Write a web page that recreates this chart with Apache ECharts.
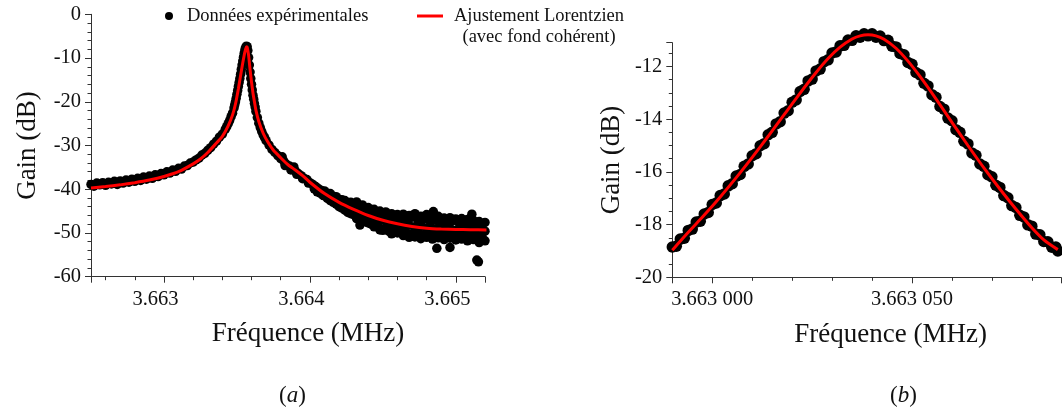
<!DOCTYPE html>
<html><head><meta charset="utf-8">
<script src="https://cdn.jsdelivr.net/npm/echarts@6/dist/echarts.min.js"></script>
<style>html,body{margin:0;padding:0;background:#fff}#c{width:1062px;height:415px}</style>
</head><body><div id="c"></div>
<script>
// ---------- DATA ----------
const expName = 'Données expérimentales';
const fitName = 'Ajustement Lorentzien (avec fond cohérent)';
const panelLabels = ['a', 'b'];

// (a) wide sweep : experimental points [MHz, dB]
const leftExp = [
[3.66250,-38.9],[3.66252,-39.3],[3.66254,-38.6],[3.66256,-39.0],[3.66258,-38.5],[3.66260,-39.1],[3.66262,-38.4],[3.66264,-38.8],[3.66266,-38.2],[3.66268,-38.9],
[3.66270,-38.1],[3.66272,-38.6],[3.66274,-37.9],[3.66276,-38.4],[3.66278,-37.7],[3.66280,-38.2],[3.66282,-37.5],[3.66284,-38.0],[3.66286,-37.2],[3.66288,-37.7],
[3.66290,-37.0],[3.66292,-37.5],[3.66294,-36.7],[3.66296,-37.1],[3.66298,-36.4],[3.66300,-36.7],[3.66302,-36.0],[3.66304,-36.3],[3.66306,-35.6],[3.66308,-35.9],
[3.66310,-35.2],[3.66312,-35.4],[3.66314,-34.7],[3.66316,-34.6],[3.66318,-34.0],[3.66320,-33.8],[3.66322,-33.3],[3.66324,-32.9],[3.66326,-32.2],[3.66328,-31.8],
[3.66330,-31.1],
[3.66332,-30.5],[3.66334,-29.7],[3.66336,-29.0],[3.66338,-28.1],[3.66340,-27.4],[3.66342,-26.3],[3.66343,-25.7],[3.66344,-25.0],[3.66345,-24.3],[3.66346,-23.4],
[3.66347,-22.6],[3.66348,-21.4],[3.663485,-20.7],[3.66349,-20.0],[3.663495,-19.2],[3.66350,-18.3],[3.663505,-17.4],[3.66351,-16.5],[3.663515,-15.6],[3.66352,-14.7],
[3.663525,-13.7],[3.66353,-12.6],[3.663535,-11.6],[3.66354,-10.7],[3.663545,-9.8],[3.66355,-8.9],[3.663555,-8.1],[3.66356,-7.6],[3.663565,-7.3],[3.66357,-7.4],
[3.663575,-8.3],[3.66358,-9.9],[3.663585,-11.6],[3.66359,-13.2],[3.663595,-14.7],[3.66360,-16.0],[3.663605,-17.3],[3.66361,-18.5],[3.663615,-19.4],[3.66362,-20.4],
[3.663625,-21.2],[3.66363,-22.2],[3.66364,-23.6],[3.66365,-24.9],[3.66366,-25.9],[3.66367,-26.8],[3.66368,-27.6],[3.66369,-28.2],[3.66370,-28.9],[3.66372,-29.9],
[3.66374,-30.9],[3.66376,-31.6],[3.66378,-32.3],[3.66380,-33.0],[3.66382,-33.5],[3.66384,-34.3],[3.66386,-34.7],[3.66388,-35.4],[3.66390,-35.8],[3.66392,-36.4],
[3.66394,-36.9],[3.66396,-37.5],[3.66398,-37.8],[3.66400,-38.5],
[3.66381,-32.6],[3.66383,-34.6],[3.66387,-35.6],[3.66389,-34.9],[3.66391,-36.6],[3.66395,-37.6],[3.66399,-38.6],
[3.66402,-38.9],[3.66403,-39.9],[3.66404,-39.4],[3.66405,-40.6],[3.66406,-39.9],[3.66407,-40.9],[3.66408,-40.3],[3.66409,-41.4],
[3.66410,-40.4],[3.66410,-41.5],[3.66412,-40.9],[3.66412,-42.1],[3.66414,-41.0],[3.66414,-42.6],[3.66414,-41.7],[3.66416,-41.6],[3.66416,-43.0],
[3.66418,-41.7],[3.66418,-43.4],[3.66418,-42.5],[3.66420,-42.3],[3.66420,-44.0],[3.66422,-42.4],[3.66422,-44.3],[3.66422,-43.1],[3.66424,-42.6],[3.66424,-44.8],
[3.66426,-43.1],[3.66426,-45.3],[3.66426,-44.2],[3.66428,-43.0],[3.66428,-45.6],[3.66430,-43.5],[3.66430,-45.8],[3.66430,-44.8],[3.66432,-42.9],[3.66432,-46.7],
[3.66432,-45.0],[3.66434,-44.0],[3.66434,-46.4],[3.66436,-43.6],[3.66436,-47.5],[3.66436,-45.6],[3.66438,-44.5],[3.66438,-46.9],[3.66440,-44.2],[3.66440,-47.7],
[3.66440,-46.1],[3.66442,-45.0],[3.66442,-48.0],[3.66444,-44.6],[3.66444,-48.6],[3.66444,-46.4],[3.66446,-45.3],[3.66446,-48.2],[3.66448,-45.0],[3.66448,-49.0],
[3.66448,-47.0],[3.66450,-45.6],[3.66450,-49.4],[3.66452,-45.2],[3.66452,-48.7],[3.66452,-47.2],[3.66454,-46.0],[3.66454,-49.6],[3.66456,-45.6],[3.66456,-50.2],
[3.66456,-47.8],[3.66458,-46.3],[3.66458,-49.2],[3.66460,-45.8],[3.66460,-50.0],[3.66460,-47.6],[3.66462,-46.6],[3.66462,-49.5],[3.66464,-45.7],[3.66464,-50.6],
[3.66464,-48.3],[3.66466,-46.8],[3.66466,-49.9],[3.66468,-46.0],[3.66468,-51.0],[3.66468,-48.2],[3.66470,-46.4],[3.66470,-50.2],[3.66472,-45.6],[3.66472,-50.9],
[3.66472,-48.6],[3.66474,-47.0],[3.66474,-49.8],[3.66476,-46.2],[3.66476,-51.3],[3.66476,-48.5],[3.66478,-46.9],[3.66478,-50.4],[3.66480,-45.8],[3.66480,-51.0],
[3.66480,-48.9],[3.66482,-47.2],[3.66482,-50.0],[3.66484,-46.4],[3.66484,-51.4],[3.66484,-49.0],[3.66486,-47.0],[3.66486,-50.6],[3.66488,-46.2],[3.66488,-51.1],
[3.66488,-48.8],[3.66490,-47.3],[3.66490,-50.0],[3.66492,-46.6],[3.66492,-51.5],[3.66492,-49.2],[3.66494,-47.4],[3.66494,-50.4],[3.66496,-46.5],[3.66496,-51.2],
[3.66496,-48.9],[3.66498,-47.2],[3.66498,-50.8],[3.66500,-46.8],[3.66500,-51.6],[3.66500,-49.4],[3.66502,-47.6],[3.66502,-50.3],[3.66504,-46.7],[3.66504,-51.4],
[3.66504,-49.0],[3.66506,-47.5],[3.66506,-50.7],[3.66508,-46.9],[3.66508,-51.8],[3.66508,-49.3],[3.66510,-47.8],[3.66510,-50.5],[3.66512,-47.1],[3.66512,-51.5],
[3.66512,-49.5],[3.66514,-48.0],[3.66514,-50.9],[3.66516,-47.4],[3.66516,-52.2],[3.66516,-49.2],[3.66518,-48.1],[3.66518,-51.0],[3.66520,-47.6],[3.66520,-51.8],
[3.66520,-49.6],
[3.66487,-53.5],[3.66496,-53.3],[3.665144,-56.2],[3.665155,-56.6],[3.66511,-45.7],[3.664846,-45.1],[3.664343,-48.2],[3.66448,-49.3],[3.66465,-49.7]
];

// (a) Lorentzian fit
const leftFitFreq = [3.66250,3.66260,3.66270,3.66280,3.66290,3.66300,3.66310,3.66320,3.66325,3.66330,3.66335,3.66340,3.66344,3.66347,3.66349,3.66351,3.66353,3.66355,3.66356,3.663566,3.66357,3.66358,3.66359,3.66360,3.66361,3.66362,3.66363,3.66365,3.66368,3.66371,3.66375,3.66380,3.66385,3.66390,3.66395,3.66400,3.66410,3.66420,3.66430,3.66440,3.66450,3.66460,3.66470,3.66480,3.66490,3.66500,3.66510,3.66521];
const leftFitGain = [-39.7,-39.4,-39.0,-38.5,-37.9,-37.1,-36.0,-34.2,-33.1,-31.6,-29.8,-27.9,-25.5,-23.0,-20.5,-17.0,-13.0,-9.3,-7.9,-7.4,-7.5,-9.4,-12.6,-15.5,-18.0,-20.0,-21.9,-24.5,-27.2,-29.1,-31.1,-32.8,-34.4,-35.6,-36.9,-38.4,-41.0,-43.0,-44.6,-46.0,-47.1,-47.9,-48.5,-48.9,-49.1,-49.2,-49.25,-49.3];

// (b) zoom on a resonance : experimental points
const rightExpFreq = [3.66299,3.662991,3.662992,3.662993,3.662994,3.662995,3.662996,3.662997,3.662998,3.662999,
3.663,3.663001,3.663002,3.663003,3.663004,3.663005,3.663006,3.663007,3.663008,3.663009,
3.66301,3.663011,3.663012,3.663013,3.663014,3.663015,3.663016,3.663017,3.663018,3.663019,
3.66302,3.663021,3.663022,3.663023,3.663024,3.663025,3.663026,3.663027,3.663028,3.663029,
3.66303,3.663031,3.663032,3.663033,3.663034,3.663035,3.663036,3.663037,3.663038,3.663039,
3.66304,3.663041,3.663042,3.663043,3.663044,3.663045,3.663046,3.663047,3.663048,3.663049,
3.66305,3.663051,3.663052,3.663053,3.663054,3.663055,3.663056,3.663057,3.663058,3.663059,
3.66306,3.663061,3.663062,3.663063,3.663064,3.663065,3.663066,3.663067,3.663068,3.663069,
3.66307,3.663071,3.663072,3.663073,3.663074,3.663075,3.663076,3.663077,3.663078,3.663079,
3.66308,3.663081,3.663082,3.663083,3.663084,3.663085,3.663086,3.6630865];
const rightExpGain = [-18.85,-18.82,-18.55,-18.52,-18.22,-18.17,-17.90,-17.87,-17.60,-17.54,
-17.24,-17.18,-16.90,-16.84,-16.53,-16.45,-16.16,-16.10,-15.79,-15.70,
-15.39,-15.31,-15.01,-14.93,-14.59,-14.50,-14.18,-14.10,-13.77,-13.68,
-13.36,-13.27,-12.95,-12.87,-12.55,-12.48,-12.17,-12.10,-11.82,-11.75,
-11.49,-11.45,-11.22,-11.20,-11.00,-11.01,-10.84,-10.89,-10.76,-10.84,
-10.76,-10.89,-10.85,-11.02,-11.01,-11.23,-11.26,-11.51,-11.56,-11.85,
-11.92,-12.23,-12.32,-12.64,-12.74,-13.07,-13.17,-13.52,-13.62,-13.96,
-14.06,-14.40,-14.50,-14.84,-14.94,-15.28,-15.37,-15.70,-15.79,-16.11,
-16.19,-16.51,-16.59,-16.90,-16.98,-17.28,-17.35,-17.65,-17.71,-18.01,
-18.06,-18.36,-18.39,-18.64,-18.65,-18.86,-18.85,-19.0];

// (b) Lorentzian fit
const rightFitFreq = [3.66299,3.662994,3.662998,3.663002,3.663006,3.66301,3.663014,3.663018,3.663022,3.663026,3.663029,3.663032,3.663035,3.663037,3.663039,3.663041,3.663043,3.663046,3.663049,3.663052,3.663056,3.66306,3.663064,3.663068,3.663072,3.663076,3.66308,3.663083,3.6630865];
const rightFitGain = [-18.97,-18.29,-17.64,-16.95,-16.22,-15.45,-14.65,-13.83,-13.01,-12.23,-11.70,-11.27,-10.96,-10.84,-10.80,-10.84,-10.97,-11.31,-11.80,-12.38,-13.23,-14.12,-15.00,-15.85,-16.65,-17.41,-18.12,-18.58,-18.95];

// ---------- CHART ----------
const SERIF = '"Liberation Serif", "Times New Roman", serif';
const AX = '#333', TXT = '#111';
const zip = (a, b) => a.map((v, i) => [v, b[i]]);

function axisBase(extra) {
  return Object.assign({
    type: 'value',
    axisLine: { show: true, onZero: false, lineStyle: { color: AX, width: 1 } },
    axisTick: { show: true, inside: false, length: 6, lineStyle: { color: AX, width: 1 } },
    minorTick: { show: true, length: 3.5, lineStyle: { color: AX, width: 1 } },
    splitLine: { show: false },
    minorSplitLine: { show: false },
    nameLocation: 'middle',
    nameTextStyle: { fontFamily: SERIF, fontSize: 27, color: TXT },
  }, extra);
}
const labelBase = { fontFamily: SERIF, fontSize: 20.5, color: TXT };
const dotStyle = { color: '#000', opacity: 1, borderWidth: 0 };

const chart = echarts.init(document.getElementById('c'), null, { renderer: 'canvas' });
chart.setOption({
  animation: false,
  backgroundColor: '#fff',
  textStyle: { fontFamily: SERIF },
  grid: [
    { left: 91, top: 14.3, right: 577, bottom: 138.3, containLabel: false, outerBoundsMode: 'none' },
    { left: 672.3, top: 42.7, right: 1, bottom: 137.7, containLabel: false, outerBoundsMode: 'none' }
  ],
  xAxis: [
    axisBase({ gridIndex: 0, min: 3.6625, max: 3.6652, splitNumber: 3,
      minorTick: { show: true, splitNumber: 5, length: 3.5, lineStyle: { color: AX, width: 1 } },
      axisLabel: Object.assign({ margin: 12, showMinLabel: false, showMaxLabel: false,
        padding: [0, 17, 0, 0], formatter: v => v.toFixed(3) }, labelBase),
      name: 'Fréquence (MHz)', nameGap: 44,
      nameTextStyle: { fontFamily: SERIF, fontSize: 27, color: TXT, padding: [0, 0, 0, 40] } }),
    axisBase({ gridIndex: 1, min: 3.66299, max: 3.6630873, splitNumber: 2,
      minorTick: { show: true, splitNumber: 5, length: 3.5, lineStyle: { color: AX, width: 1 } },
      axisLabel: Object.assign({ margin: 12, showMinLabel: false, showMaxLabel: false,
        formatter: v => { const s = v.toFixed(6); return s.slice(0, 5) + ' ' + s.slice(5); } }, labelBase),
      name: 'Fréquence (MHz)', nameGap: 44,
      nameTextStyle: { fontFamily: SERIF, fontSize: 27, color: TXT, padding: [0, 0, 0, 48] } })
  ],
  yAxis: [
    axisBase({ gridIndex: 0, min: -60, max: 0, interval: 10,
      minorTick: { show: true, splitNumber: 5, length: 3.5, lineStyle: { color: AX, width: 1 } },
      axisLabel: Object.assign({ margin: 10 }, labelBase),
      name: 'Gain (dB)', nameGap: 50 }),
    axisBase({ gridIndex: 1, min: -20, max: -11.1, interval: 2,
      minorTick: { show: true, splitNumber: 4, length: 3.5, lineStyle: { color: AX, width: 1 } },
      axisLabel: Object.assign({ margin: 10, showMaxLabel: false }, labelBase),
      name: 'Gain (dB)', nameGap: 47 })
  ],
  legend: [
    { data: [{ name: expName, icon: 'circle', itemStyle: dotStyle }], left: 165, top: 5, padding: 0,
      itemWidth: 8, itemHeight: 8, selectedMode: false,
      textStyle: { fontFamily: SERIF, fontSize: 18.5, lineHeight: 22, color: TXT, padding: [0, 0, 0, 9] } },
    { data: [{ name: fitName, icon: 'rect' }], left: 417, top: -16.25, padding: 0,
      itemWidth: 26, itemHeight: 3, selectedMode: false,
      formatter: () => '{a|Ajustement Lorentzien}\n{b|(avec fond cohérent)}',
      textStyle: { fontFamily: SERIF, fontSize: 18.5, lineHeight: 21.5, color: TXT, padding: [21.5, 0, 0, 6],
        rich: {
          a: { fontFamily: SERIF, fontSize: 18.5, lineHeight: 21.5, color: TXT },
          b: { fontFamily: SERIF, fontSize: 18.5, lineHeight: 21.5, color: TXT, align: 'center' }
        } } }
  ],
  title: panelLabels.map((l, i) => ({
    text: '{p|(}{i|' + l + '}{p|)}', left: i === 0 ? 279 : 890, top: 384, padding: 0,
    textStyle: { fontWeight: 'normal', rich: {
      p: { fontFamily: SERIF, fontSize: 23, fontWeight: 'normal', color: TXT },
      i: { fontFamily: SERIF, fontSize: 23, fontWeight: 'normal', fontStyle: 'italic', color: TXT } } }
  })),
  series: [
    { type: 'scatter', name: expName, xAxisIndex: 0, yAxisIndex: 0, data: leftExp,
      symbol: 'circle', symbolSize: 9.5, itemStyle: dotStyle, clip: true, silent: true, z: 2 },
    { type: 'line', name: fitName, xAxisIndex: 0, yAxisIndex: 0, data: zip(leftFitFreq, leftFitGain),
      showSymbol: false, symbol: 'none', smooth: 0.2, clip: true, silent: true, z: 3,
      itemStyle: { color: '#ff0000' }, lineStyle: { color: '#ff0000', width: 3 } },
    { type: 'scatter', name: expName, xAxisIndex: 1, yAxisIndex: 1, data: zip(rightExpFreq, rightExpGain),
      symbol: 'circle', symbolSize: 11.5, itemStyle: dotStyle, clip: false, silent: true, z: 2 },
    { type: 'line', name: fitName, xAxisIndex: 1, yAxisIndex: 1, data: zip(rightFitFreq, rightFitGain),
      showSymbol: false, symbol: 'none', smooth: 0.25, clip: false, silent: true, z: 3,
      itemStyle: { color: '#ff0000' }, lineStyle: { color: '#ff0000', width: 3 } }
  ]
});
</script></body></html>
